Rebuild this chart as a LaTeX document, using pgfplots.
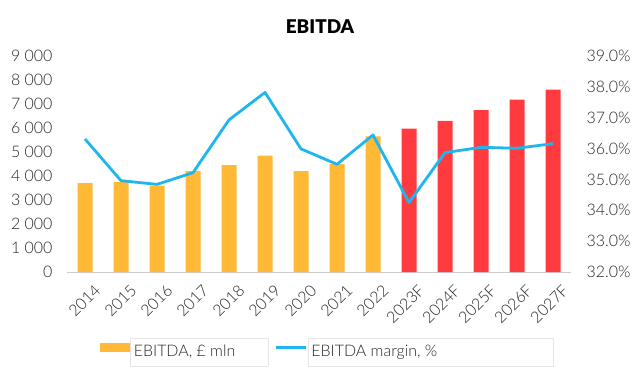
\documentclass[border=0pt]{standalone}
\usepackage{fontspec}
\setmainfont{Lato}
\IfFontExistsTF{Lato Light}{\newfontfamily\lightfont{Lato Light}}{\newfontfamily\lightfont{Lato}}
\IfFontExistsTF{Lato Black}{\newfontfamily\titlefont{Lato Black}}{\newfontfamily\titlefont{Lato}[UprightFont=*,UprightFeatures={FakeBold=0}]\let\oldtf\titlefont\renewcommand{\titlefont}{\oldtf\bfseries}}
\usepackage{pgfplots}
\pgfplotsset{compat=1.18}
\definecolor{barO}{HTML}{FFB937}
\definecolor{barR}{HTML}{FF3B40}
\definecolor{lineB}{HTML}{1FB6EE}
\definecolor{txt}{HTML}{262626}
\newcommand{\tf}{\lightfont\fontsize{16}{18}\selectfont}
\begin{document}
\begin{tikzpicture}[x=1bp,y=1bp]
\useasboundingbox (0,0) rectangle (640,378);
\node[font=\titlefont\fontsize{19}{21}\selectfont, text=black] at (320,351) {EBITDA};
\begin{axis}[
  at={(67bp,106bp)}, anchor=south west,
  scale only axis, width=504bp, height=216bp,
  xmin=-0.5, xmax=13.5, ymin=0, ymax=9000,
  axis x line*=bottom, axis y line*=left,
  y axis line style={draw=none},
  x axis line style={draw=gray!40, line width=1bp},
  major tick length=0pt,
  xtick={0,...,13},
  xticklabels={2014,2015,2016,2017,2018,2019,2020,2021,2022,2023F,2024F,2025F,2026F,2027F},
  x tick label style={rotate=45, anchor=north east, font=\tf, text=txt, inner sep=1bp, xshift=-1bp, yshift=-13bp},
  ytick={0,1000,...,9000},
  y tick label style={font=\tf, text=txt, xshift=-11bp},
  /pgf/number format/1000 sep={\ },
  /pgf/number format/assume math mode=true,
  legend columns=2,
  legend style={at={(0.516,-0.35)}, anchor=center, draw=none, fill=none,
    font=\tf, text=txt,
    nodes={inner sep=0.5bp},
    /tikz/every even column/.append style={column sep=6bp}},
]
\addplot[ybar, bar width=15bp, bar shift=0pt, fill=barO, draw=none,
  legend image code/.code={\fill[barO] (0bp,-4.5bp) rectangle (30bp,4.5bp);}]
  coordinates {(0,3700) (1,3750) (2,3600) (3,4200) (4,4450) (5,4850) (6,4200) (7,4500) (8,5650)};
\addlegendentry{\fcolorbox{gray!20}{white}{\parbox[c][22bp][c]{131bp}{EBITDA, £ mln}}}
\addplot[ybar, bar width=15bp, bar shift=0pt, fill=barR, draw=none, forget plot]
  coordinates {(9,5970) (10,6300) (11,6750) (12,7180) (13,7600)};
\addlegendimage{lineB, line width=2.8bp, legend image code/.code={\draw[lineB, line width=2.8bp] (0bp,0bp) -- (30bp,0bp);}}
\addlegendentry{\fcolorbox{gray!20}{white}{\parbox[c][22bp][c]{239bp}{EBITDA margin, \%}}}
\end{axis}
\begin{axis}[
  at={(67bp,106bp)}, anchor=south west,
  scale only axis, width=504bp, height=216bp,
  xmin=-0.5, xmax=13.5, ymin=32, ymax=39,
  axis x line=none, axis y line*=right,
  y axis line style={draw=none},
  major tick length=0pt,
  ytick={32,33,...,39},
  yticklabel={\pgfmathprintnumber[fixed,fixed zerofill,precision=1]{\tick}\%},
  y tick label style={font=\tf, text=txt, xshift=12bp},
  /pgf/number format/assume math mode=true,
]
\addplot[lineB, line width=2.8bp, line join=round]
  coordinates {(0,36.31) (1,34.96) (2,34.84) (3,35.22) (4,36.93) (5,37.82) (6,35.99) (7,35.49) (8,36.44) (9,34.25) (10,35.87) (11,36.04) (12,36.01) (13,36.16)};
\end{axis}
\end{tikzpicture}
\end{document}
